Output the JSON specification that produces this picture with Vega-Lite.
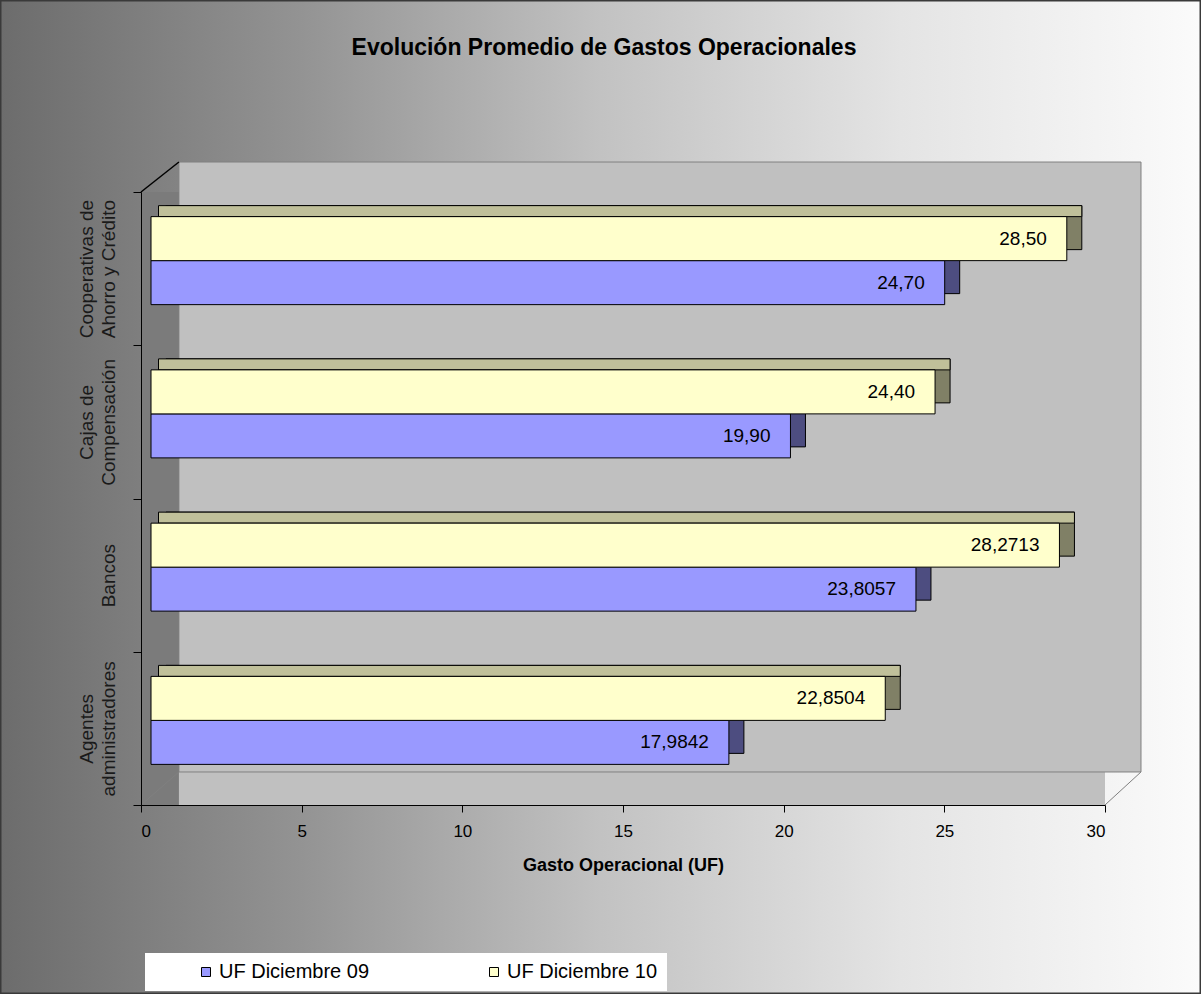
{
  "$schema": "https://vega.github.io/schema/vega-lite/v6.json",
  "width": 964,
  "height": 613,
  "autosize": {"type": "none"},
  "padding": {"left": 141, "top": 192, "right": 96, "bottom": 189},
  "background": "#ffffff",
  "title": {"text": "Evolución Promedio de Gastos Operacionales", "fontSize": 23, "fontWeight": "bold", "color": "#000000", "anchor": "middle", "dx": -19, "offset": -61, "font": "Liberation Sans", "zindex": 2},
  "config": {
    "font": "Liberation Sans",
    "view": {"stroke": null, "fill": null},
    "axisX": {"domainColor": "#000000", "tickColor": "#000000", "tickSize": 7, "labelFontSize": 17, "labelColor": "#000000", "labelPadding": 11, "titleFontSize": 18, "titleFontWeight": "bold", "titleColor": "#000000", "titlePadding": 17, "grid": false},
    "axisY": {"domainColor": "#000000", "tickColor": "#000000", "tickSize": 8, "tickBand": "extent", "labelAngle": 270, "labelAlign": "center", "labelBaseline": "bottom", "labelFontSize": 19, "labelLineHeight": 22, "labelPadding": 37, "labelColor": "#1a1a1a", "grid": false, "title": null},
    "legend": {"orient": "none", "legendX": 4, "legendY": 761, "direction": "horizontal", "fillColor": "#ffffff", "padding": 9, "symbolType": "square", "symbolSize": 81, "symbolStrokeColor": "#000000", "symbolStrokeWidth": 1, "labelFontSize": 20, "labelColor": "#000000", "columnPadding": 72, "symbolOffset": 42, "labelOffset": 3, "labelLimit": 400, "title": null, "zindex": 2}
  },
  "datasets": {
    "gastos": [
      {"categoria": "Cooperativas de Ahorro y Crédito", "serie": "UF Diciembre 09", "valor": 24.70, "etiqueta": "24,70"},
      {"categoria": "Cooperativas de Ahorro y Crédito", "serie": "UF Diciembre 10", "valor": 28.50, "etiqueta": "28,50"},
      {"categoria": "Cajas de Compensación", "serie": "UF Diciembre 09", "valor": 19.90, "etiqueta": "19,90"},
      {"categoria": "Cajas de Compensación", "serie": "UF Diciembre 10", "valor": 24.40, "etiqueta": "24,40"},
      {"categoria": "Bancos", "serie": "UF Diciembre 09", "valor": 23.8057, "etiqueta": "23,8057"},
      {"categoria": "Bancos", "serie": "UF Diciembre 10", "valor": 28.2713, "etiqueta": "28,2713"},
      {"categoria": "Agentes administradores", "serie": "UF Diciembre 09", "valor": 17.9842, "etiqueta": "17,9842"},
      {"categoria": "Agentes administradores", "serie": "UF Diciembre 10", "valor": 22.8504, "etiqueta": "22,8504"}
    ],
    "pared": [{"parte": "pared"}]
  },
  "layer": [
    {
      "data": {"name": "pared"},
      "mark": {"type": "rect", "stroke": "#3a3a3a", "strokeWidth": 3, "yOffset": -268.6, "y2Offset": 265.6, "fill": {"gradient": "linear", "x1": 0, "y1": 0, "x2": 1, "y2": 0, "stops": [{"offset": 0, "color": "#6c6c6c"}, {"offset": 0.25, "color": "#939393"}, {"offset": 0.5, "color": "#c2c2c2"}, {"offset": 0.75, "color": "#e4e4e4"}, {"offset": 1, "color": "#fbfbfb"}]}},
      "encoding": {
        "x": {"datum": -4.388, "type": "quantitative", "scale": {"domain": [0, 30], "nice": false}, "axis": {"zindex": 1}},
        "x2": {"datum": 32.988},
        "y": {"datum": "Cooperativas de Ahorro y Crédito", "type": "nominal", "scale": {"domain": ["Cooperativas de Ahorro y Crédito", "Cajas de Compensación", "Bancos", "Agentes administradores"], "paddingInner": 0, "paddingOuter": 0}, "axis": {"zindex": 1}},
        "y2": {"datum": "Agentes administradores"}
      }
    },
    {
      "data": {"name": "pared"},
      "mark": {"type": "rect", "fill": "#c0c0c0", "stroke": null},
      "encoding": {"x": {"datum": 0, "type": "quantitative"}, "x2": {"datum": 30}}
    },
    {
      "data": {"name": "pared"},
      "mark": {"type": "rect", "fill": "#c0c0c0", "stroke": "#808080", "strokeWidth": 1, "yOffset": -106.6, "y2Offset": 43.6},
      "encoding": {
        "x": {"datum": 1.18, "type": "quantitative"},
        "x2": {"datum": 31.12},
        "y": {"datum": "Cooperativas de Ahorro y Crédito", "type": "nominal"},
        "y2": {"datum": "Agentes administradores"}
      }
    },
    {
      "data": {"name": "pared"},
      "mark": {"type": "rect", "fill": "#7b7b7b", "stroke": null},
      "encoding": {"x": {"datum": 0, "type": "quantitative"}, "x2": {"datum": 1.18}}
    },
    {
      "data": {"name": "pared"},
      "mark": {"type": "rule", "color": "#000000", "strokeWidth": 1.5, "yOffset": -76.6, "y2Offset": -106.6},
      "encoding": {
        "x": {"datum": 0, "type": "quantitative"},
        "x2": {"datum": 1.18},
        "y": {"datum": "Cooperativas de Ahorro y Crédito", "type": "nominal"},
        "y2": {"datum": "Cooperativas de Ahorro y Crédito"}
      }
    },
    {
      "data": {"name": "pared"},
      "mark": {"type": "rule", "color": "#808080", "strokeWidth": 1, "yOffset": 76.6, "y2Offset": 43.6},
      "encoding": {
        "x": {"datum": 0, "type": "quantitative"},
        "x2": {"datum": 1.18},
        "y": {"datum": "Agentes administradores", "type": "nominal"},
        "y2": {"datum": "Agentes administradores"}
      }
    },
    {
      "data": {"name": "pared"},
      "mark": {"type": "rule", "color": "#808080", "strokeWidth": 1, "yOffset": 76.6, "y2Offset": 43.6},
      "encoding": {
        "x": {"datum": 30, "type": "quantitative"},
        "x2": {"datum": 31.12},
        "y": {"datum": "Agentes administradores", "type": "nominal"},
        "y2": {"datum": "Agentes administradores"}
      }
    },
    {
      "data": {"name": "gastos"},
      "transform": [{"filter": "datum.serie == 'UF Diciembre 09'"}],
      "mark": {"type": "bar", "fill": "#4d4d80", "stroke": "#000000", "strokeWidth": 1, "height": 44, "yOffset": 3, "xOffset": 25, "x2Offset": 25},
      "encoding": {
        "y": {"field": "categoria", "type": "nominal", "sort": ["Cooperativas de Ahorro y Crédito", "Cajas de Compensación", "Bancos", "Agentes administradores"]},
        "x": {"field": "valor", "type": "quantitative"},
        "x2": {"datum": 0}
      }
    },
    {
      "data": {"name": "gastos"},
      "transform": [{"filter": "datum.serie == 'UF Diciembre 10'"}],
      "mark": {"type": "bar", "fill": "#808066", "stroke": "#000000", "strokeWidth": 1, "height": 44, "yOffset": -41, "xOffset": 25, "x2Offset": 25},
      "encoding": {
        "y": {"field": "categoria", "type": "nominal", "sort": ["Cooperativas de Ahorro y Crédito", "Cajas de Compensación", "Bancos", "Agentes administradores"]},
        "x": {"field": "valor", "type": "quantitative"},
        "x2": {"datum": 0}
      }
    },
    {
      "data": {"name": "gastos"},
      "transform": [{"filter": "datum.serie == 'UF Diciembre 10'"}],
      "mark": {"type": "bar", "fill": "#c0c09a", "stroke": "#000000", "strokeWidth": 1, "height": 11, "yOffset": -57.5, "xOffset": 25, "x2Offset": 17.5},
      "encoding": {
        "y": {"field": "categoria", "type": "nominal", "sort": ["Cooperativas de Ahorro y Crédito", "Cajas de Compensación", "Bancos", "Agentes administradores"]},
        "x": {"field": "valor", "type": "quantitative"},
        "x2": {"datum": 0}
      }
    },
    {
      "data": {"name": "gastos"},
      "transform": [{"filter": "datum.serie == 'UF Diciembre 09'"}],
      "mark": {"type": "bar", "stroke": "#000000", "strokeWidth": 1, "height": 44, "yOffset": 14, "xOffset": 10, "x2Offset": 10, "opacity": 1},
      "encoding": {
        "y": {"field": "categoria", "type": "nominal", "sort": ["Cooperativas de Ahorro y Crédito", "Cajas de Compensación", "Bancos", "Agentes administradores"]},
        "x": {"field": "valor", "type": "quantitative"},
        "x2": {"datum": 0},
        "color": {"field": "serie", "type": "nominal", "scale": {"domain": ["UF Diciembre 09", "UF Diciembre 10"], "range": ["#9999ff", "#ffffcc"]}}
      }
    },
    {
      "data": {"name": "gastos"},
      "transform": [{"filter": "datum.serie == 'UF Diciembre 10'"}],
      "mark": {"type": "bar", "stroke": "#000000", "strokeWidth": 1, "height": 44, "yOffset": -30, "xOffset": 10, "x2Offset": 10, "opacity": 1},
      "encoding": {
        "y": {"field": "categoria", "type": "nominal", "sort": ["Cooperativas de Ahorro y Crédito", "Cajas de Compensación", "Bancos", "Agentes administradores"]},
        "x": {"field": "valor", "type": "quantitative"},
        "x2": {"datum": 0},
        "color": {"field": "serie", "type": "nominal"}
      }
    },
    {
      "data": {"name": "gastos"},
      "transform": [{"filter": "datum.serie == 'UF Diciembre 09'"}],
      "mark": {"type": "text", "align": "right", "baseline": "middle", "fontSize": 19, "color": "#000000", "xOffset": -10, "yOffset": 14},
      "encoding": {
        "y": {"field": "categoria", "type": "nominal", "sort": ["Cooperativas de Ahorro y Crédito", "Cajas de Compensación", "Bancos", "Agentes administradores"]},
        "x": {"field": "valor", "type": "quantitative"},
        "text": {"field": "etiqueta"}
      }
    },
    {
      "data": {"name": "gastos"},
      "transform": [{"filter": "datum.serie == 'UF Diciembre 10'"}],
      "mark": {"type": "text", "align": "right", "baseline": "middle", "fontSize": 19, "color": "#000000", "xOffset": -10, "yOffset": -30},
      "encoding": {
        "y": {"field": "categoria", "type": "nominal", "sort": ["Cooperativas de Ahorro y Crédito", "Cajas de Compensación", "Bancos", "Agentes administradores"], "axis": {"zindex": 1, "labelExpr": "datum.value == 'Cooperativas de Ahorro y Crédito' ? ['Cooperativas de', 'Ahorro y Crédito'] : datum.value == 'Cajas de Compensación' ? ['Cajas de', 'Compensación'] : datum.value == 'Agentes administradores' ? ['Agentes', 'administradores'] : ['', datum.value]"}},
        "x": {"field": "valor", "type": "quantitative", "axis": {"zindex": 1, "title": "Gasto Operacional (UF)", "values": [0, 5, 10, 15, 20, 25, 30]}},
        "text": {"field": "etiqueta"}
      }
    }
  ]
}
